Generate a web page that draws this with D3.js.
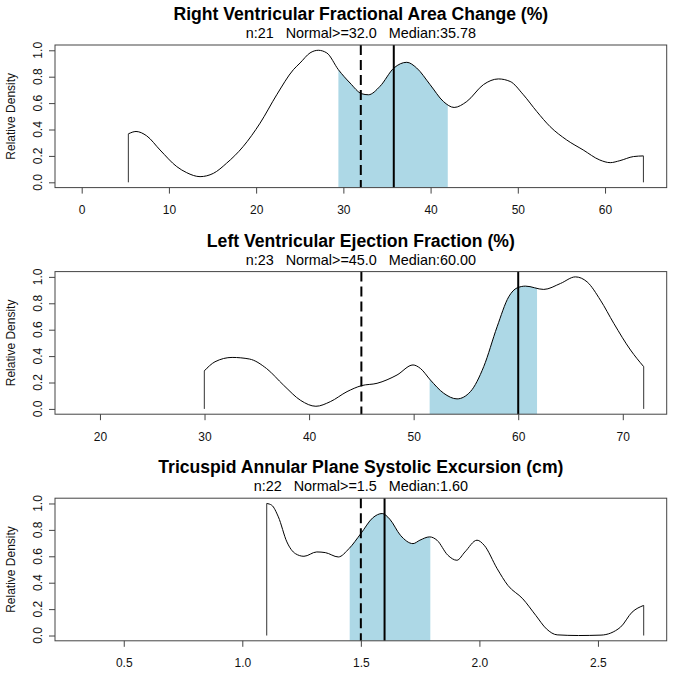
<!DOCTYPE html>
<html><head><meta charset="utf-8">
<script src="https://cdn.jsdelivr.net/npm/d3@7"></script>
<style>
html,body{margin:0;padding:0;background:#fff;}
text{font-family:"Liberation Sans",Arial,Helvetica,sans-serif;white-space:pre;}
</style></head>
<body>
<svg id="c" width="673" height="674"></svg>
<script>
// ---- data ----
const titles = [
  "Right Ventricular Fractional Area Change (%)",
  "Left Ventricular Ejection Fraction (%)",
  "Tricuspid Annular Plane Systolic Excursion (cm)"
];
const subtitles = [
  "n:21   Normal>=32.0   Median:35.78",
  "n:23   Normal>=45.0   Median:60.00",
  "n:22   Normal>=1.5   Median:1.60"
];
const normals = [32.0, 45.0, 1.5];
const medians = [35.78, 60.0, 1.60];
const iqrLow = [29.43, 51.53, 1.453];
const iqrHigh = [41.97, 61.8, 1.793];
const xDomains = [[-3.06, 67.07], [15.7, 74.2], [0.21, 2.79]];
const xTicks = [[0,10,20,30,40,50,60],[20,30,40,50,60,70],[0.5,1.0,1.5,2.0,2.5]];
const xTickFormats = ["d","d",".1f"];
const yTicks = [0,0.2,0.4,0.6,0.8,1.0];

const rvfacX = [5.35,6.23,7.45,8.98,10.9,12.04,13.57,15.1,16.6,18.5,20.45,22.36,24.27,25.04,26.18,27.13,28.1,29.43,30.77,32.1,32.87,34.2,35.8,37.27,38.4,39.94,41.47,42.7,44.15,46.06,47.78,49.12,50.64,52.18,53.7,55.6,57.5,59.4,60.6,61.7,63.26,64.4];
const rvfacY = [0.367,0.385,0.352,0.245,0.119,0.073,0.043,0.068,0.144,0.27,0.448,0.663,0.853,0.904,0.98,1.0,0.98,0.853,0.752,0.671,0.663,0.727,0.866,0.909,0.866,0.74,0.612,0.567,0.612,0.74,0.783,0.764,0.663,0.536,0.422,0.321,0.245,0.169,0.149,0.164,0.195,0.2];

const lvefX = [29.98,31.0,32.64,34.29,35.93,37.57,39.2,40.65,42.03,43.63,45.0,46.5,48.41,49.94,50.64,51.6,52.87,54.15,55.43,56.7,57.98,59.09,59.9,60.69,62.44,64.04,65.47,66.59,67.86,69.14,70.74,72.0];
const lvefY = [0.288,0.357,0.39,0.378,0.306,0.179,0.064,0.02,0.055,0.131,0.176,0.194,0.257,0.333,0.307,0.219,0.119,0.076,0.131,0.32,0.622,0.849,0.917,0.93,0.905,0.95,1.0,0.962,0.824,0.648,0.446,0.32];

const tapseX = [1.103,1.124,1.152,1.188,1.224,1.26,1.314,1.35,1.405,1.45,1.5,1.55,1.59,1.622,1.667,1.72,1.749,1.79,1.821,1.867,1.905,1.939,1.99,2.02,2.075,2.12,2.183,2.238,2.283,2.328,2.418,2.513,2.595,2.644,2.693];
const tapseY = [1.0,0.987,0.899,0.709,0.62,0.6,0.633,0.628,0.595,0.658,0.772,0.891,0.924,0.881,0.759,0.696,0.722,0.747,0.722,0.608,0.57,0.633,0.722,0.684,0.506,0.38,0.278,0.152,0.05,0.005,0.0,0.003,0.063,0.177,0.228];

const seriesX = [rvfacX, lvefX, tapseX];
const seriesY = [rvfacY, lvefY, tapseY];

// ---- layout ----
const svg = d3.select("#c");
const left = 55, right = 666.7, panelH = 142.6, firstTop = 45, step = 226.6;
const axisColor = "#444";

for (let i = 0; i < 3; i++) {
  const top = firstTop + i*step, bottom = top + panelH;
  const x = d3.scaleLinear().domain(xDomains[i]).range([left, right]);
  const y = d3.scaleLinear().domain([-0.04, 1.04]).range([bottom, top]);
  const g = svg.append("g");
  const pts = seriesX[i].map((v,k)=>[v, seriesY[i][k]]);

  const clipId = "clip"+i;
  g.append("clipPath").attr("id", clipId).append("rect")
    .attr("x", x(iqrLow[i])).attr("y", top)
    .attr("width", x(iqrHigh[i]) - x(iqrLow[i])).attr("height", panelH);

  const area = d3.area().x(d=>x(d[0])).y0(bottom).y1(d=>y(d[1])).curve(d3.curveMonotoneX);
  g.append("path").datum(pts).attr("d", area).attr("fill", "#ADD8E6")
    .attr("clip-path", `url(#${clipId})`);

  const line = d3.line().x(d=>x(d[0])).y(d=>y(d[1])).curve(d3.curveMonotoneX);
  g.append("path").datum(pts).attr("d", line).attr("fill","none").attr("stroke","#000").attr("stroke-width",1);
  const first = pts[0], last = pts[pts.length-1];
  g.append("line").attr("x1", x(first[0])).attr("x2", x(first[0])).attr("y1", y(0)).attr("y2", y(first[1]))
    .attr("stroke","#333").attr("stroke-width",1);
  g.append("line").attr("x1", x(last[0])).attr("x2", x(last[0])).attr("y1", y(0)).attr("y2", y(last[1]))
    .attr("stroke","#333").attr("stroke-width",1);

  g.append("line").attr("x1", x(normals[i])).attr("x2", x(normals[i])).attr("y1", top).attr("y2", bottom)
    .attr("stroke","#000").attr("stroke-width",2).attr("stroke-dasharray","10,5");
  g.append("line").attr("x1", x(medians[i])).attr("x2", x(medians[i])).attr("y1", top).attr("y2", bottom)
    .attr("stroke","#000").attr("stroke-width",2);

  g.append("rect").attr("x", left).attr("y", top).attr("width", right-left).attr("height", panelH)
    .attr("fill","none").attr("stroke", axisColor).attr("stroke-width",1);

  const xa = g.append("g").attr("transform", `translate(0,${bottom})`)
    .call(d3.axisBottom(x).tickValues(xTicks[i]).tickFormat(d3.format(xTickFormats[i])).tickSize(6).tickSizeOuter(0));
  xa.select(".domain").remove();
  xa.selectAll(".tick line").attr("stroke", axisColor);
  xa.selectAll(".tick text").attr("font-size", 12).attr("fill","#111").attr("y", 18)
    .attr("font-family", '"Liberation Sans",Arial,sans-serif');

  const ya = g.append("g").attr("transform", `translate(${left},0)`)
    .call(d3.axisLeft(y).tickValues(yTicks).tickFormat(d3.format(".1f")).tickSize(6).tickSizeOuter(0));
  ya.select(".domain").remove();
  ya.selectAll(".tick line").attr("stroke", axisColor);
  ya.selectAll(".tick text").remove();
  yTicks.forEach(v => {
    g.append("text").attr("transform", `translate(42,${y(v)}) rotate(-90)`)
      .attr("text-anchor","middle").attr("font-size",12).attr("fill","#111").text(d3.format(".1f")(v));
  });

  g.append("text").attr("transform", `translate(15,${(top+bottom)/2}) rotate(-90)`)
    .attr("text-anchor","middle").attr("font-size",12).attr("fill","#111").text("Relative Density");

  const cx = (left+right)/2;
  g.append("text").attr("x", cx).attr("y", top-25).attr("text-anchor","middle")
    .attr("font-size",17.6).attr("font-weight","bold").attr("fill","#000").text(titles[i]);
  g.append("text").attr("x", cx).attr("y", top-7).attr("text-anchor","middle")
    .attr("xml:space","preserve")
    .attr("font-size",14.4).attr("fill","#000").text(subtitles[i]);
}
</script>
</body></html>
